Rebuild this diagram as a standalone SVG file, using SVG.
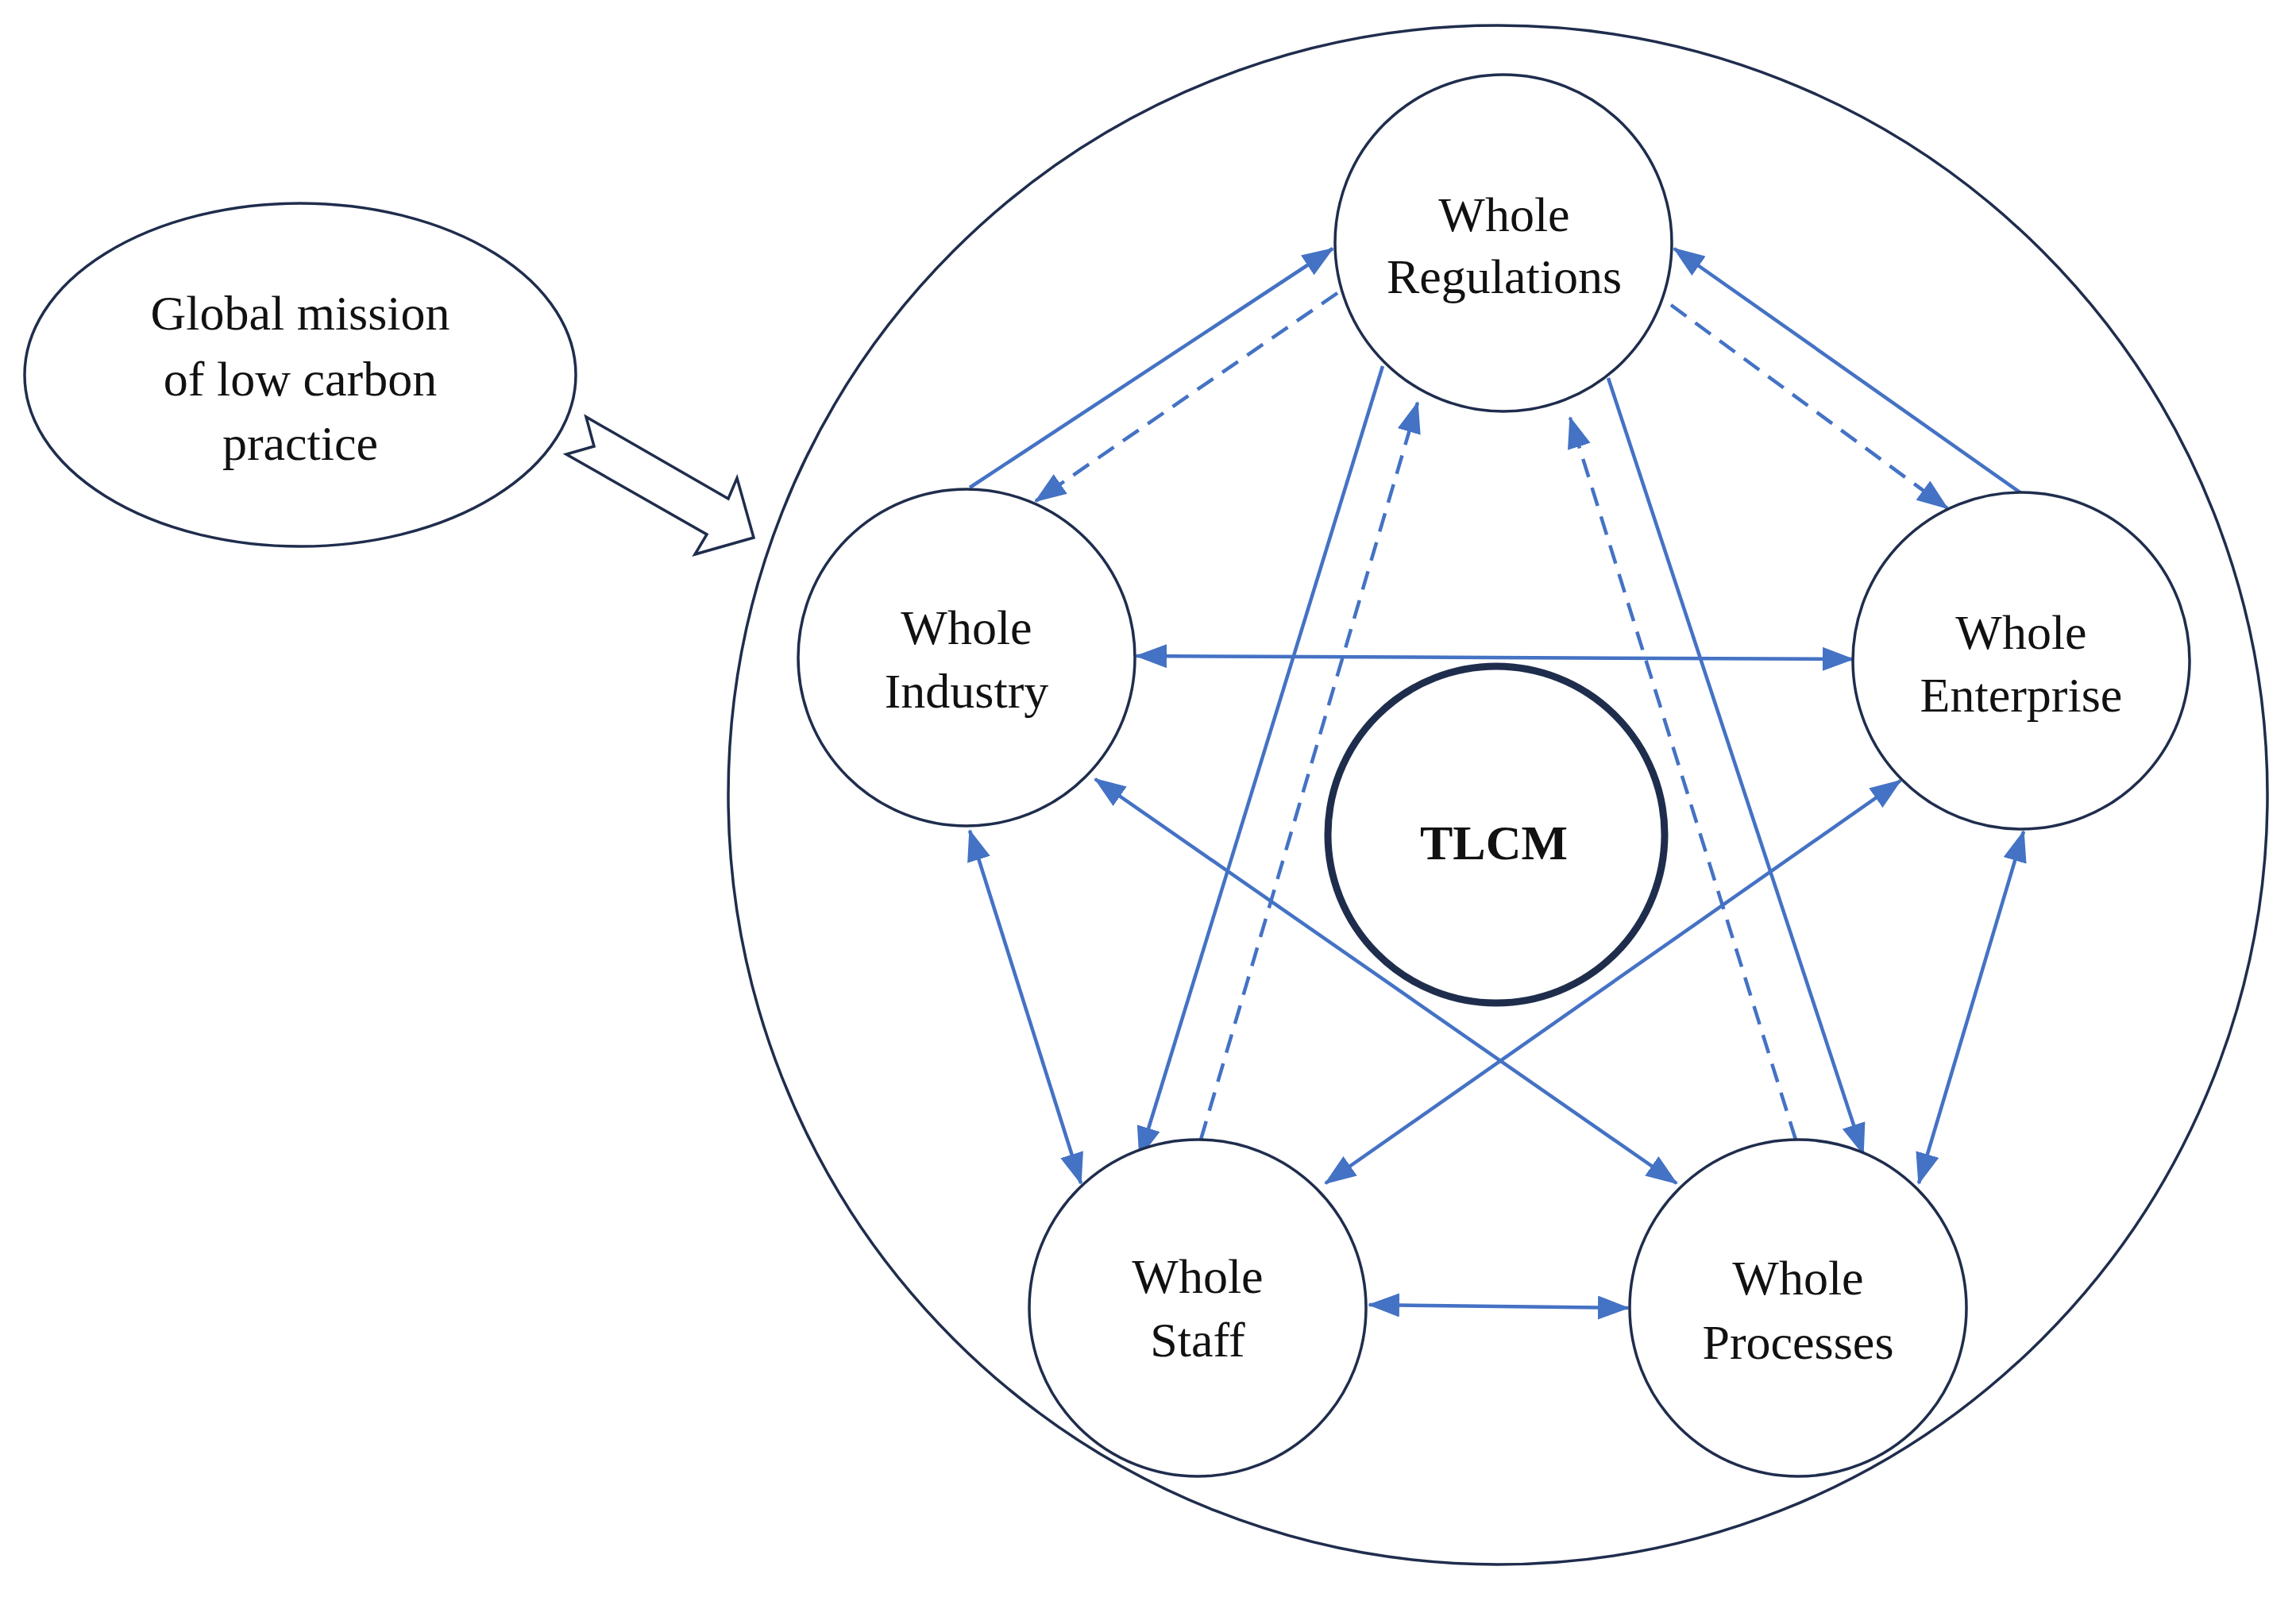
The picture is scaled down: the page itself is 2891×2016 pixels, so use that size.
<svg xmlns="http://www.w3.org/2000/svg" width="2891" height="2016" viewBox="0 0 2891 2016">
<style>
.n{fill:#fff;stroke:#1f2d4d;stroke-width:3.5}
.t{font-family:"Liberation Serif",serif;font-size:62px;fill:#111;text-anchor:middle}
.c{stroke:#4472c4;stroke-width:4.5;fill:none}
.d{stroke-dasharray:24,14}
</style>
<defs>
<marker id="a" markerUnits="userSpaceOnUse" markerWidth="40" markerHeight="30" refX="38" refY="15" orient="auto-start-reverse"><path d="M0,0 L40,15 L0,30 Z" fill="#4472c4"/></marker>
</defs>
<rect width="2891" height="2016" fill="#fff"/>
<g id="outer"><ellipse cx="1886" cy="1001" rx="969" ry="969" class="n"/></g>
<g id="mission"><ellipse cx="378" cy="472" rx="347" ry="216" class="n"/>
<text class="t" x="378" y="415">Global mission</text><text class="t" x="378" y="498">of low carbon</text><text class="t" x="378" y="579">practice</text></g>
<g id="bigarrow"><polygon points="738,525 748,562 713,572 890,673 875,698 949,677 928,602 917,628" fill="#fff" stroke="#1f2d4d" stroke-width="3.5"/></g>
<g id="connectors">
<line class="c" x1="1221" y1="614" x2="1678" y2="313" marker-end="url(#a)"/>
<line class="c d" x1="1684" y1="369" x2="1304" y2="631" marker-end="url(#a)"/>
<line class="c" x1="2545" y1="621" x2="2108" y2="313" marker-end="url(#a)"/>
<line class="c d" x1="2104" y1="384" x2="2452" y2="640" marker-end="url(#a)"/>
<line class="c" x1="1431" y1="826" x2="2333" y2="830" marker-start="url(#a)" marker-end="url(#a)"/>
<line class="c" x1="1741" y1="461" x2="1435" y2="1457" marker-end="url(#a)"/>
<line class="c d" x1="1512" y1="1435" x2="1785" y2="507" marker-end="url(#a)"/>
<line class="c" x1="2025" y1="476" x2="2346" y2="1453" marker-end="url(#a)"/>
<line class="c d" x1="2261" y1="1435" x2="1977" y2="526" marker-end="url(#a)"/>
<line class="c" x1="1379" y1="981" x2="2111" y2="1490" marker-start="url(#a)" marker-end="url(#a)"/>
<line class="c" x1="2393" y1="983" x2="1669" y2="1490" marker-start="url(#a)" marker-end="url(#a)"/>
<line class="c" x1="1221" y1="1046" x2="1361" y2="1490" marker-start="url(#a)" marker-end="url(#a)"/>
<line class="c" x1="2548" y1="1047" x2="2416" y2="1490" marker-start="url(#a)" marker-end="url(#a)"/>
<line class="c" x1="1724" y1="1643" x2="2050" y2="1647" marker-start="url(#a)" marker-end="url(#a)"/>
</g>
<g id="tlcm"><circle cx="1884" cy="1051" r="212" fill="#fff" stroke="#1f2d4d" stroke-width="9"/><text class="t" x="1881" y="1082" font-weight="bold" font-size="66">TLCM</text></g>
<g id="regulations"><circle cx="1893" cy="306" r="212" class="n"/><text class="t" x="1894" y="291">Whole</text><text class="t" x="1894" y="369">Regulations</text></g>
<g id="industry"><circle cx="1217" cy="828" r="212" class="n"/><text class="t" x="1217" y="811">Whole</text><text class="t" x="1217" y="891">Industry</text></g>
<g id="enterprise"><circle cx="2545" cy="832" r="212" class="n"/><text class="t" x="2545" y="817">Whole</text><text class="t" x="2545" y="896">Enterprise</text></g>
<g id="staff"><circle cx="1508" cy="1647" r="212" class="n"/><text class="t" x="1508" y="1628">Whole</text><text class="t" x="1508" y="1708">Staff</text></g>
<g id="processes"><circle cx="2264" cy="1647" r="212" class="n"/><text class="t" x="2264" y="1630">Whole</text><text class="t" x="2264" y="1711">Processes</text></g>
</svg>
